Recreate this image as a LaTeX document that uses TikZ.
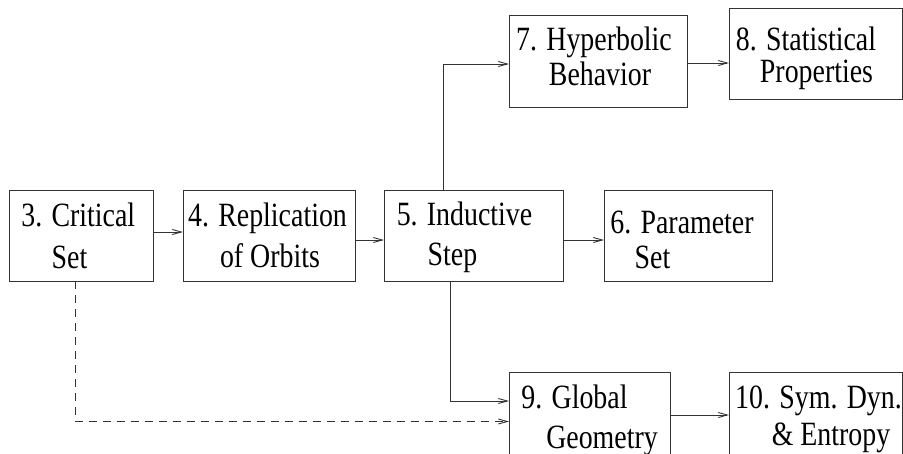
\documentclass[tikz,border=0pt]{standalone}
\usepackage{fontspec}
\setmainfont{Liberation Serif}[FakeStretch=0.82]
\usetikzlibrary{arrows.meta}
\definecolor{ink}{HTML}{333333}
\tikzset{
  box/.style={draw=ink,line width=0.9pt,inner sep=0pt,outer sep=0pt},
  lbl/.style={anchor=base,inner sep=0pt,font=\fontsize{34}{38}\selectfont},
  arr/.style={draw=ink,line width=0.9pt,-{Straight Barb[length=9pt,width=5pt]}},
  dsh/.style={arr,dash pattern=on 8pt off 6pt},
}
\begin{document}
\begin{tikzpicture}[x=1pt,y=-1pt]
\useasboundingbox (0,0) rectangle (903,453);
\clip (0,0) rectangle (903,453);
% boxes
\node[box,minimum width=144pt,minimum height=91pt] (b3) at (81,235.5) {};
\node[box,minimum width=172pt,minimum height=91pt] (b4) at (269,235.5) {};
\node[box,minimum width=179pt,minimum height=91pt] (b5) at (473.5,235.5) {};
\node[box,minimum width=168pt,minimum height=91pt] (b6) at (688,235.5) {};
\node[box,minimum width=178pt,minimum height=92pt] (b7) at (598,61) {};
\node[box,minimum width=173pt,minimum height=91pt] (b8) at (815.5,53.5) {};
\node[box,minimum width=161pt,minimum height=91pt] (b9) at (589.5,417.5) {};
\node[box,minimum width=173pt,minimum height=91pt] (b10) at (815.5,417.5) {};
% texts
\node[lbl] (t3a) at (78.3,226) {3. Critical};
\node[lbl] (t3b) at (69.5,268) {Set};
\node[lbl] (t4a) at (267.5,226.5) {4. Replication};
\node[lbl] (t4b) at (270,267) {of Orbits};
\node[lbl] (t5a) at (464.5,225) {5. Inductive};
\node[lbl] (t5b) at (452.5,265) {Step};
\node[lbl] (t6a) at (682,233) {6. Parameter};
\node[lbl] (t6b) at (652.5,268) {Set};
\node[lbl] (t7a) at (594,50) {7. Hyperbolic};
\node[lbl] (t7b) at (600,85) {Behavior};
\node[lbl] (t8a) at (806,50) {8. Statistical};
\node[lbl] (t8b) at (816.5,82) {Properties};
\node[lbl] (t9a) at (574.5,408) {9. Global};
\node[lbl] (t9b) at (602,448) {Geometry};
\node[lbl] (t10a) at (818.5,408) {10. Sym. Dyn.};
\node[lbl] (t10b) at (831,445) {\& Entropy};
% connectors
\draw[arr] (b3.east |- 0,232) -- (b4.west |- 0,232);
\draw[arr] (b4.east |- 0,240) -- (b5.west |- 0,240);
\draw[arr] (b5.east |- 0,240) -- (b6.west |- 0,240);
\draw[arr] (b5.north -| 443,0) -- (443,64) -- (b7.west |- 0,64);
\draw[arr] (b7.east |- 0,63) -- (b8.west |- 0,63);
\draw[arr] (b5.south -| 450,0) -- (450,401) -- (b9.west |- 0,401);
\draw[dsh] (b3.south -| 75,0) -- (75,421.5) -- (b9.west |- 0,421.5);
\draw[arr] (b9.east |- 0,415) -- (b10.west |- 0,415);
\end{tikzpicture}
\end{document}
